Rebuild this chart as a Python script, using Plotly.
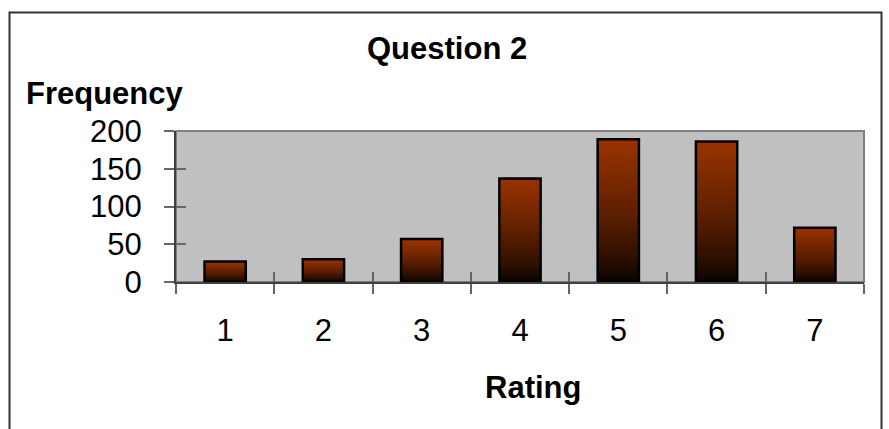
import plotly.graph_objects as go

categories = ["1", "2", "3", "4", "5", "6", "7"]
frequency = [27, 30, 57, 137, 189, 186, 72]
y_ticks = [0, 50, 100, 150, 200]

TOP = (153, 51, 0)
N = 60
BAR_W = 0.42

fig = go.Figure()
for k in range(N):
    f = 1 - k / N
    g = f ** 0.7
    col = "rgb(%d,%d,%d)" % tuple(int(round(c * g)) for c in TOP)
    fig.add_trace(go.Bar(
        x=categories, y=[v * f for v in frequency], width=BAR_W,
        marker=dict(color=col, line=dict(width=0)),
        hoverinfo="skip", showlegend=False,
    ))
fig.add_trace(go.Bar(
    x=categories, y=frequency, width=BAR_W,
    marker=dict(color="rgba(0,0,0,0)", line=dict(color="black", width=2.5)),
    showlegend=False,
))
fig.add_trace(go.Scatter(x=categories, y=frequency, xaxis="x2", yaxis="y2",
                         mode="markers", marker=dict(opacity=0), showlegend=False,
                         hoverinfo="skip"))

W, H = 889, 429
L, R, T, B = 176, 25, 131, 147
pw, ph = W - L - R, H - T - B
def px(x):
    return (x - L) / pw
def py(y):
    return (H - B - y) / ph

font = "Liberation Sans, Arial, sans-serif"
fig.update_layout(
    width=W, height=H, barmode="overlay",
    margin=dict(l=L, r=R, t=T, b=B, pad=0),
    paper_bgcolor="white", plot_bgcolor="#c0c0c0",
    font=dict(family=font, color="black"),
    xaxis=dict(type="category", categoryorder="array", categoryarray=categories,
               tickson="boundaries", ticks="outside", ticklen=10, tickwidth=2,
               tickcolor="#666666", showline=True, linecolor="#404040", linewidth=2,
               showgrid=False, tickfont=dict(size=31), ticklabelstandoff=20),
    xaxis2=dict(type="category", overlaying="x", matches="x", side="bottom",
                tickson="boundaries", ticks="inside", ticklen=10, tickwidth=2,
                tickcolor="#666666", showticklabels=False, showgrid=False, showline=False),
    yaxis=dict(range=[0, 200], tickvals=y_ticks, ticks="outside", ticklen=10, tickwidth=2,
               tickcolor="#666666", showline=True, linecolor="#404040", linewidth=2,
               showgrid=False, zeroline=False, tickfont=dict(size=31), ticklabelstandoff=16),
    yaxis2=dict(range=[0, 200], overlaying="y", matches="y", side="left",
                tickvals=y_ticks, ticks="inside", ticklen=10, tickwidth=2,
                tickcolor="#666666", showticklabels=False, showgrid=False,
                zeroline=False, showline=False),
    shapes=[
        dict(type="rect", xref="paper", yref="paper", x0=0, x1=1, y0=0, y1=1,
             line=dict(color="#808080", width=2), layer="below"),
        dict(type="rect", xref="paper", yref="paper", x0=px(9.5), x1=px(881.5),
             y0=py(445), y1=py(12.5), line=dict(color="#333333", width=2)),
    ],
    annotations=[
        dict(text="<b>Question 2</b>", xref="paper", yref="paper", x=px(446.5), y=py(49),
             xanchor="center", yanchor="middle", showarrow=False, font=dict(size=31)),
        dict(text="<b>Frequency</b>", xref="paper", yref="paper", x=px(24), y=py(93),
             xanchor="left", yanchor="middle", showarrow=False, font=dict(size=31)),
        dict(text="<b>Rating</b>", xref="paper", yref="paper", x=px(532.5), y=py(387),
             xanchor="center", yanchor="middle", showarrow=False, font=dict(size=31)),
    ],
)
fig.write_html("out.html", config={"displayModeBar": False},
               post_script="document.body.style.margin='0';")
